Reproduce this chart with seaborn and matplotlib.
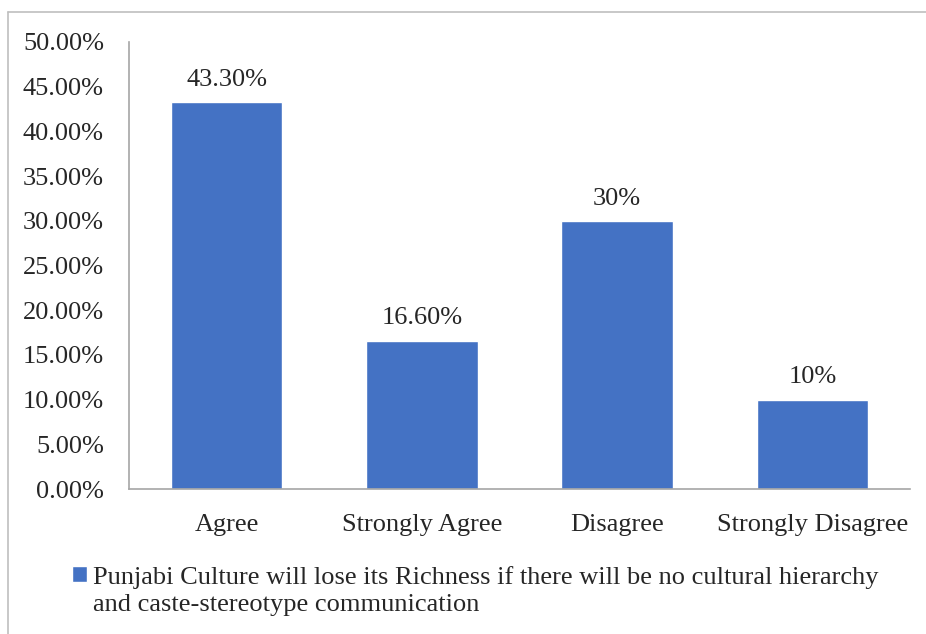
"""
Punjabi culture survey - bar chart of responses
"""
import matplotlib
matplotlib.use("Agg")
import matplotlib.pyplot as plt
import seaborn as sns
from matplotlib.ticker import PercentFormatter
from matplotlib.lines import Line2D

categories = ["Agree", "Strongly Agree", "Disagree", "Strongly Disagree"]
values = [0.433, 0.166, 0.30, 0.10]
value_labels = ["43.30%", "16.60%", "30%", "10%"]
series_line1 = "Punjabi Culture will lose its Richness if there will be no cultural hierarchy"
series_line2 = "and caste-stereotype communication"

sns.set_style("white")
plt.rcParams['font.family'] = ['Liberation Serif', 'DejaVu Serif']

BLUE = "#4472C4"
GRAY = "#A6A6A6"
FS = 19

fig = plt.figure(figsize=(9.26, 6.34), dpi=100)
ax = fig.add_axes([0.1393, 0.2287, 0.8434, 0.7051])

sns.barplot(x=categories, y=values, color=BLUE, width=0.57, ax=ax,
            saturation=1, label=series_line1)

ax.set_ylim(0, 0.5)
ax.set_yticks([i * 0.05 for i in range(11)])
ax.yaxis.set_major_formatter(PercentFormatter(1, decimals=2))
ax.set_xlabel("")
ax.set_ylabel("")
ax.tick_params(axis='both', length=0, labelsize=FS)
ax.tick_params(axis='y', pad=18)
ax.tick_params(axis='x', pad=18)

for side in ['top', 'right']:
    ax.spines[side].set_visible(False)
for side in ['left', 'bottom']:
    ax.spines[side].set_color(GRAY)
    ax.spines[side].set_linewidth(1.2)

ax.bar_label(ax.containers[0], labels=value_labels, padding=8, fontsize=FS)

leg = ax.legend(loc="upper left", bbox_to_anchor=(0.078, 0.108), bbox_transform=fig.transFigure,
                frameon=False, fontsize=FS, handlelength=0.55, handleheight=0.55,
                handletextpad=0.22, borderpad=0, borderaxespad=0)

# second line of the legend entry, aligned under the first
fig.canvas.draw()
bb = leg.get_texts()[0].get_window_extent().transformed(fig.transFigure.inverted())
fig.text(bb.x0, bb.y0 - 27 / 634, series_line2, fontsize=FS, ha="left", va="bottom")

# outer chart border (left and top edges visible)
fig.add_artist(Line2D([0.0086, 0.0086], [0.0, 0.981], transform=fig.transFigure,
                      color="#BFBFBF", lw=1.2))
fig.add_artist(Line2D([0.0086, 1.0], [0.981, 0.981], transform=fig.transFigure,
                      color="#BFBFBF", lw=1.2))

fig.savefig("out.png", dpi=100)
